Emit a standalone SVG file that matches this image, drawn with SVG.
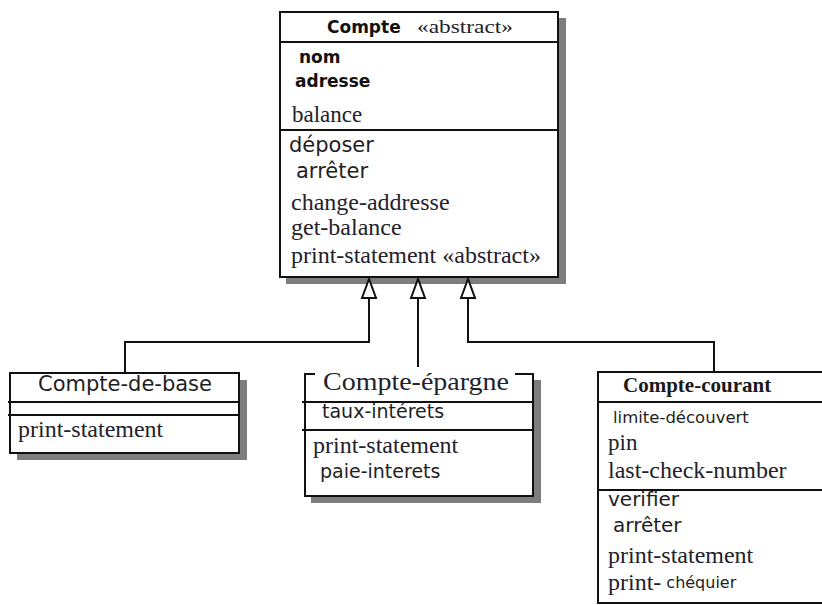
<svg xmlns="http://www.w3.org/2000/svg" width="822" height="605" viewBox="0 0 822 605">
  <style>
    .box { fill: #ffffff; stroke: #111111; stroke-width: 2; }
    .shadow { fill: #7d7d7d; }
    .sep { stroke: #111111; stroke-width: 2; fill: none; }
    .serif { font-family: "Liberation Serif", "Times New Roman", serif; fill: #22222c; font-size: 23px; }
    .sans { font-family: "DejaVu Sans", Verdana, sans-serif; fill: #1e1e22; font-size: 20px; }
    .bold-sans { font-family: "DejaVu Sans", Verdana, sans-serif; font-weight: bold; fill: #111111; font-size: 17px; }
    .bold-serif { font-family: "Liberation Serif", "Times New Roman", serif; font-weight: bold; fill: #1a1a1a; font-size: 20px; }
    .link { stroke: #111111; stroke-width: 2; fill: none; }
    .head { fill: #ffffff; stroke: #111111; stroke-width: 2; stroke-linejoin: miter; }
  </style>

  <rect width="822" height="605" fill="#ffffff"/>

  <!-- Abstract base class -->
  <g id="compte">
    <rect class="shadow" x="286" y="18" width="280" height="266"/>
    <rect class="box" x="280" y="12" width="278" height="265"/>
    <line class="sep" x1="280" y1="42" x2="558" y2="42"/>
    <line class="sep" x1="280" y1="130" x2="558" y2="130"/>
    <text class="bold-sans" x="327" y="33">Compte</text>
    <text class="serif" x="417" y="33" style="font-size:19px" textLength="96" lengthAdjust="spacingAndGlyphs">«abstract»</text>
    <text class="bold-sans" x="299" y="63">nom</text>
    <text class="bold-sans" x="295" y="87">adresse</text>
    <text class="serif" x="292" y="122">balance</text>
    <text class="sans" x="289" y="152" style="font-size:21px">déposer</text>
    <text class="sans" x="296" y="178" style="font-size:21px">arrêter</text>
    <text class="serif" x="291" y="210" style="font-size:24px">change-addresse</text>
    <text class="serif" x="291" y="235" style="font-size:24px">get-balance</text>
    <text class="serif" x="291" y="263" style="font-size:24px">print-statement «abstract»</text>
  </g>

  <!-- Subclass: basic account -->
  <g id="compte-de-base">
    <rect class="shadow" x="17" y="380" width="230" height="80"/>
    <rect class="box" x="10" y="373" width="229" height="80"/>
    <line class="sep" x1="8" y1="402" x2="239" y2="402"/>
    <line class="sep" x1="8" y1="415" x2="239" y2="415"/>
    <text class="sans" x="125" y="391" text-anchor="middle" style="font-size:21px">Compte-de-base</text>
    <text class="serif" x="18" y="437" style="font-size:24px">print-statement</text>
  </g>

  <!-- Subclass: savings account -->
  <g id="compte-epargne">
    <rect class="shadow" x="311" y="380" width="230" height="123"/>
    <rect x="305" y="374" width="228" height="122" fill="#ffffff"/>
    <path class="sep" d="M315,374 H305 V496 H533 V374 H515"/>
    <line class="sep" x1="302" y1="402" x2="533" y2="402"/>
    <line class="sep" x1="302" y1="430" x2="533" y2="430"/>
    <text class="serif" x="323" y="390" style="font-size:25px" textLength="186" lengthAdjust="spacingAndGlyphs">Compte-épargne</text>
    <text class="sans" x="322" y="418" style="font-size:19px">taux-intérets</text>
    <text class="serif" x="313" y="453" style="font-size:24px">print-statement</text>
    <text class="sans" x="320" y="478" style="font-size:19px">paie-interets</text>
  </g>

  <!-- Subclass: current account -->
  <g id="compte-courant">
    <path class="box" d="M830,372 H598 V603 H830"/>
    <line class="sep" x1="598" y1="402" x2="822" y2="402"/>
    <line class="sep" x1="598" y1="490" x2="822" y2="490"/>
    <text class="bold-serif" x="623" y="392" style="font-size:21px">Compte-courant</text>
    <text class="sans" x="613" y="423" style="font-size:16.5px">limite-découvert</text>
    <text class="serif" x="608" y="450">pin</text>
    <text class="serif" x="608" y="478" style="font-size:24px">last-check-number</text>
    <text class="sans" x="608" y="506">verifier</text>
    <text class="sans" x="613" y="532">arrêter</text>
    <text class="serif" x="608" y="563" style="font-size:24px">print-statement</text>
    <text class="serif" x="608" y="590" style="font-size:24px">print-<tspan class="sans" style="font-size:16px" dx="5" dy="-2">chéquier</tspan></text>
  </g>

  <!-- Generalization links -->
  <g id="connectors">
    <path class="link" d="M369,298 V342 H125 V373"/>
    <path class="link" d="M418,298 V367"/>
    <path class="link" d="M468,298 V342 H714 V372"/>
    <polygon class="head" points="369,279 362,298 376,298"/>
    <polygon class="head" points="418,279 411,298 425,298"/>
    <polygon class="head" points="468,279 461,298 475,298"/>
  </g>
</svg>
